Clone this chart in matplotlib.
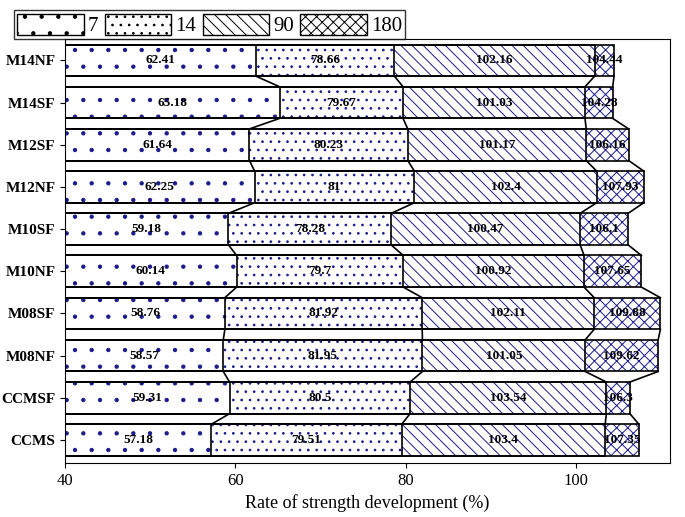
import matplotlib
matplotlib.use("Agg")
import matplotlib.pyplot as plt

categories = ["CCMS", "CCMSF", "M08NF", "M08SF", "M10NF", "M10SF", "M12NF", "M12SF", "M14SF", "M14NF"]
d7 = [57.18, 59.31, 58.57, 58.76, 60.14, 59.18, 62.25, 61.64, 65.18, 62.41]
d14 = [79.51, 80.5, 81.95, 81.92, 79.7, 78.28, 81, 80.23, 79.67, 78.66]
d90 = [103.4, 103.54, 101.05, 102.11, 100.92, 100.47, 102.4, 101.17, 101.03, 102.16]
d180 = [107.35, 106.3, 109.62, 109.88, 107.65, 106.1, 107.93, 106.16, 104.28, 104.44]
series_names = ["7", "14", "90", "180"]

plt.rcParams["font.family"] = "Liberation Serif"
plt.rcParams["hatch.linewidth"] = 0.7
fig = plt.figure(figsize=(6.85, 5.17), dpi=100)
ax = fig.add_axes([0.095, 0.104, 0.883, 0.82])
h = 0.75
y = list(range(len(categories)))
series = [d7, d14, d90, d180]
hatches = [".", "..", "\\\\\\", "xxx"]
handles = []
for s, hatch, name in reversed(list(zip(series, hatches, series_names))):
    b = ax.barh(y, s, height=h, left=0, color="white", edgecolor="#1a1a8c",
                hatch=hatch, linewidth=0, label=name, zorder=2)
    ax.barh(y, s, height=h, left=0, fill=False, edgecolor="black", linewidth=1.2, zorder=3)
    handles.append(b)
handles = handles[::-1]
for s in series:
    for i in range(len(y) - 1):
        ax.plot([s[i], s[i + 1]], [y[i] + h / 2, y[i + 1] - h / 2], color="black", lw=1.2, zorder=3)
for i in y:
    prev = 40
    for s in series:
        ax.text((prev + s[i]) / 2, i, f"{s[i]:g}", ha="center", va="center",
                fontsize=9.5, fontweight="bold", zorder=4)
        prev = s[i]
ax.set_xlim(40, 111)
ax.set_ylim(-0.55, 9.5)
ax.set_xticks([40, 60, 80, 100])
ax.set_yticks(y)
ax.set_yticklabels(categories, fontweight="bold", fontsize=11)
ax.tick_params(axis="x", labelsize=12)
ax.set_xlabel("Rate of strength development (%)", fontsize=13)
leg = fig.legend(handles, series_names, loc="upper left", bbox_to_anchor=(0.005, 1.0),
                 ncol=4, fontsize=15, frameon=True, edgecolor="black", fancybox=False,
                 handlelength=3.2, handleheight=1.2, columnspacing=0.3, handletextpad=0.2,
                 borderpad=0.15)
for p in leg.get_patches():
    p.set_linewidth(1.0)
    p.set_edgecolor("black")
fig.savefig("out.png", dpi=100)
